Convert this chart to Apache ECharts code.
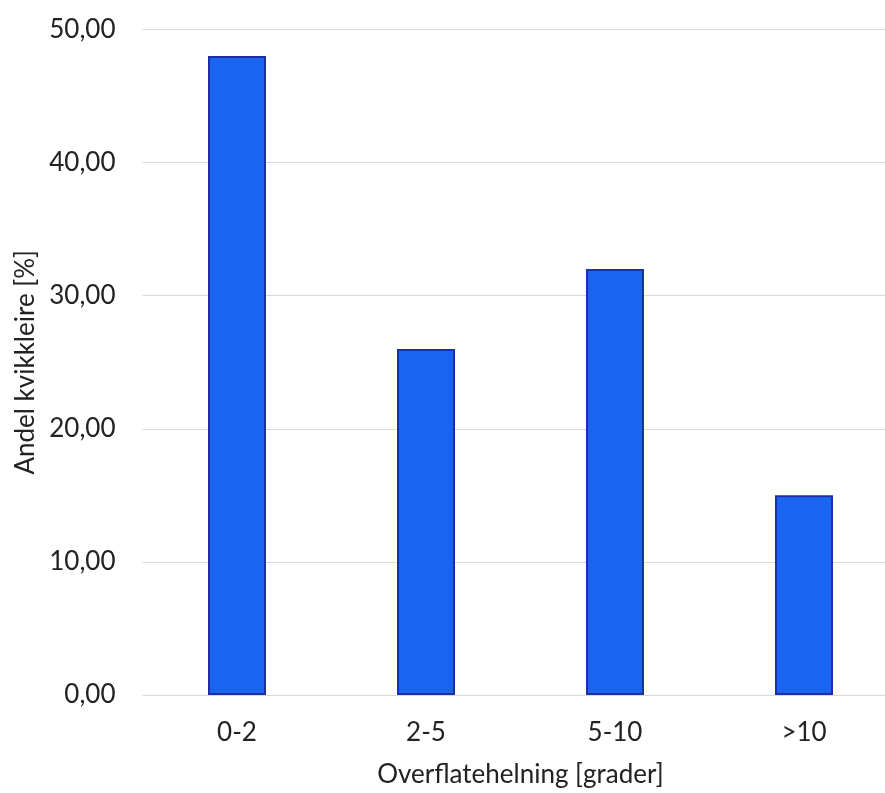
<!DOCTYPE html>
<html>
<head>
<meta charset="utf-8">
<script src="https://cdn.jsdelivr.net/npm/echarts@6/dist/echarts.min.js"></script>
<style>html,body{margin:0;padding:0;background:#fff;overflow:hidden}#c{width:899px;height:793px}</style>
</head>
<body>
<div id="c"></div>
<script>
const categories = ['0-2', '2-5', '5-10', '>10'];
const values = [48, 26, 32, 15];
const yTicks = { min: 0, max: 50, interval: 10 };
const xTitle = 'Overflatehelning [grader]';
const yTitle = 'Andel kvikkleire [%]';

const chart = echarts.init(document.getElementById('c'), null, { renderer: 'canvas' });
const font = 'Lato, "Open Sans", sans-serif';
chart.setOption({
  animation: false,
  textStyle: { fontFamily: font },
  grid: { left: 142.5, top: 29.5, width: 756, height: 666, containLabel: false },
  xAxis: {
    type: 'category',
    data: categories,
    axisLine: { show: false },
    axisTick: { show: false },
    axisLabel: { color: '#222', fontSize: 26, fontFamily: font, margin: 25 },
    name: xTitle,
    nameLocation: 'middle',
    nameGap: 67,
    nameTextStyle: { color: '#222', fontSize: 26, fontFamily: font }
  },
  yAxis: {
    type: 'value',
    min: yTicks.min, max: yTicks.max, interval: yTicks.interval,
    axisLine: { show: false },
    axisTick: { show: false },
    axisLabel: { color: '#222', fontSize: 26, fontFamily: font, margin: 27,
      formatter: v => v.toFixed(2).replace('.', ',') },
    splitLine: { lineStyle: { color: '#d9d9d9', width: 1 } },
    name: yTitle,
    nameLocation: 'middle',
    nameGap: 103,
    nameTextStyle: { color: '#222', fontSize: 26, fontFamily: font }
  },
  series: [{
    type: 'bar',
    data: values,
    barWidth: 58,
    itemStyle: { color: '#1a64f0', borderColor: '#1c2fa8', borderWidth: 2 }
  }]
});
</script>
</body>
</html>
